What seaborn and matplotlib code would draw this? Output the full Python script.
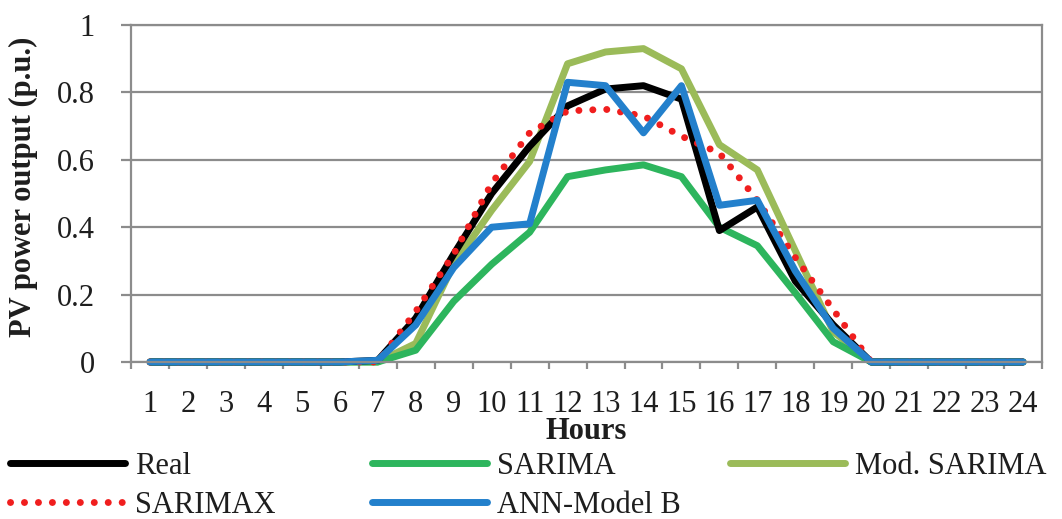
import numpy as np
import pandas as pd
import matplotlib
matplotlib.use("Agg")
import matplotlib.pyplot as plt
import seaborn as sns
from matplotlib.ticker import FixedLocator, FixedFormatter

# === Data ===
hours = list(range(1, 25))
real = [0, 0, 0, 0, 0, 0, 0.005, 0.13, 0.32, 0.50, 0.64, 0.76,
        0.81, 0.82, 0.78, 0.39, 0.46, 0.24, 0.11, 0, 0, 0, 0, 0]
sarima = [0, 0, 0, 0, 0, 0, 0, 0.035, 0.18, 0.29, 0.385, 0.55,
          0.57, 0.585, 0.55, 0.40, 0.345, 0.205, 0.06, 0, 0, 0, 0, 0]
mod_sarima = [0, 0, 0, 0, 0, 0, 0, 0.055, 0.29, 0.45, 0.595, 0.885,
              0.92, 0.93, 0.87, 0.645, 0.57, 0.33, 0.09, 0, 0, 0, 0, 0]
sarimax = [0, 0, 0, 0, 0, 0, 0, 0.15, 0.32, 0.53, 0.68, 0.745,
           0.75, 0.73, 0.67, 0.62, 0.48, 0.31, 0.155, 0, 0, 0, 0, 0]
ann_b = [0, 0, 0, 0, 0, 0, 0.005, 0.11, 0.28, 0.40, 0.41, 0.83,
         0.82, 0.68, 0.82, 0.465, 0.48, 0.27, 0.10, 0, 0, 0, 0, 0]

y_ticks = [0, 0.2, 0.4, 0.6, 0.8, 1.0]
y_tick_labels = ["0", "0.2", "0.4", "0.6", "0.8", "1"]

# === Style ===
sns.set_theme(style="white")
plt.rcParams["font.family"] = ["Liberation Serif", "DejaVu Serif"]
FS = 22
GRID = "#8c8c8c"
TXT = "#1e1e1e"

fig = plt.figure(figsize=(10.62, 5.19), dpi=100)
ax = fig.add_axes([0.1234, 0.3025, 0.8578, 0.6493])

# draw order: lower layers first, ANN on top
series = [
    ("Mod. SARIMA", mod_sarima, "#9bbb59", "-"),
    ("SARIMA", sarima, "#2db55d", "-"),
    ("Real", real, "#000000", "-"),
    ("SARIMAX", sarimax, "#f01e1e", (0, (0.01, 2.0))),
    ("ANN-Model B", ann_b, "#2380cc", "-"),
]
handles = {}
for name, vals, col, ls in series:
    sns.lineplot(x=hours, y=vals, ax=ax, color=col, linewidth=5, linestyle=ls,
                 label=name, legend=False)
    line = ax.lines[-1]
    line.set_clip_on(False)
    if name == "SARIMAX":
        line.set_dash_capstyle("round")
    handles[name] = line

# === Axes ===
ax.set_xlim(0.5, 24.5)
ax.set_ylim(0, 1)
ax.yaxis.set_major_locator(FixedLocator(y_ticks))
ax.yaxis.set_major_formatter(FixedFormatter(y_tick_labels))
ax.xaxis.set_major_locator(FixedLocator(hours))
ax.xaxis.set_minor_locator(FixedLocator([h - 0.5 for h in hours] + [24.5]))
ax.grid(axis="y", color=GRID, linewidth=1.6)
ax.set_axisbelow(True)
for s in ax.spines.values():
    s.set_color(GRID)
    s.set_linewidth(1.6)

ax.tick_params(axis="y", which="major", length=7, width=1.6, color=GRID,
               direction="out", labelsize=FS, pad=19, left=True)
ax.tick_params(axis="x", which="major", length=0, labelsize=FS, pad=20, bottom=True)
ax.tick_params(axis="x", which="minor", length=5, width=1.6, color=GRID,
               direction="out", bottom=True)
for lab in ax.get_xticklabels() + ax.get_yticklabels():
    lab.set_color(TXT)

ax.set_xlabel("Hours", fontsize=FS, fontweight="bold", color=TXT)
ax.xaxis.label.set_va("center")
ax.xaxis.set_label_coords(0.5, -0.205)
ax.set_ylabel("PV power output (p.u.)", fontsize=FS, fontweight="bold", color=TXT)
ax.yaxis.label.set_va("center")
ax.yaxis.set_label_coords(-0.118, 0.52)

# === Legend: three columns placed at fixed x positions ===
columns = [
    (["Real", "SARIMAX"], 10),
    (["SARIMA", "ANN-Model B"], 372),
    (["Mod. SARIMA"], 730),
]
for names, xpix in columns:
    leg = fig.legend([handles[n] for n in names], names, loc="upper left",
                     bbox_to_anchor=(xpix / 1062, 1 - 452 / 519), frameon=False,
                     fontsize=FS, handlelength=3.75, handletextpad=0.33,
                     borderpad=0, borderaxespad=0, labelspacing=0.33)
    for t in leg.get_texts():
        t.set_color(TXT)

fig.savefig("out.png", dpi=100)
